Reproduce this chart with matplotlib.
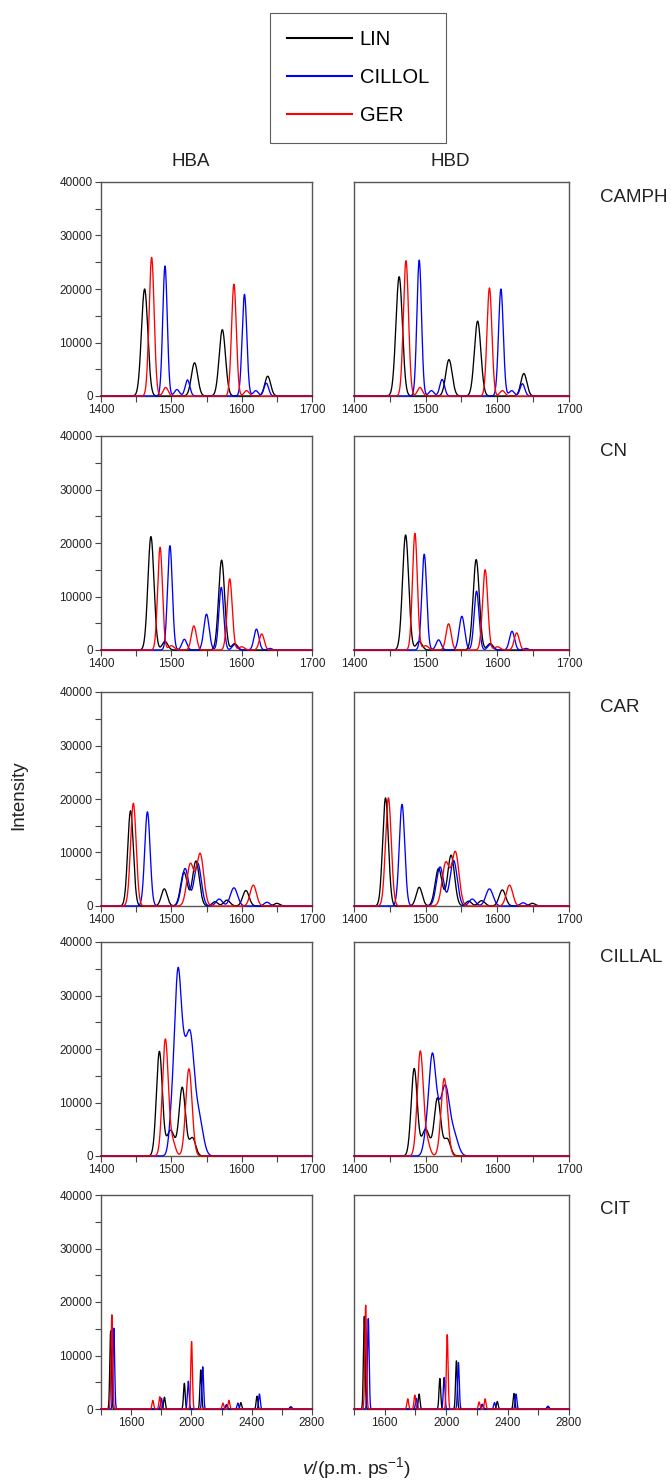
import numpy as np
import matplotlib.pyplot as plt
from matplotlib.ticker import MultipleLocator

plt.rcParams['font.family'] = ['Liberation Sans', 'DejaVu Sans']
plt.rcParams['mathtext.fontset'] = 'custom'
plt.rcParams['mathtext.rm'] = 'Liberation Sans'
plt.rcParams['mathtext.it'] = 'Liberation Sans:italic'

# series and rows
SERIES = ['LIN', 'CILLOL', 'GER']
COLORS = {'LIN': 'black', 'CILLOL': 'blue', 'GER': 'red'}
SOLVENTS = ['CAMPH', 'CN', 'CAR', 'CILLAL', 'CIT']
COLUMNS = ['HBA', 'HBD']

# peaks: (centre, intensity, half-width)
CAMPH_HBA = {
    'LIN': [(1462, 20000, 4.5), (1533, 6200, 4.5), (1572.5, 12400, 4.5), (1637, 3700, 4.2)],
    'CILLOL': [(1491, 24300, 3.2), (1508, 1200, 3.5), (1523, 3000, 3.3), (1604, 19000, 3.3),
               (1620, 1000, 3.5), (1635, 2400, 3.3)],
    'GER': [(1472, 25900, 3.6), (1492, 1600, 3.5), (1589, 20900, 3.4), (1607, 1000, 3.5)],
}
CAMPH_HBD = {
    'LIN': [(1463, 22300, 4.5), (1532.5, 6800, 4.5), (1572.5, 14000, 4.5), (1637, 4200, 4.2)],
    'CILLOL': [(1491, 25400, 3.2), (1508, 1000, 3.5), (1523, 3100, 3.3), (1605, 20000, 3.3),
               (1620, 1000, 3.5), (1635, 2300, 3.3)],
    'GER': [(1472.5, 25300, 3.6), (1492, 1600, 3.5), (1589, 20200, 3.4), (1607, 1000, 3.5)],
}
CN_HBA = {
    'LIN': [(1471, 21200, 4.3), (1491, 1600, 4), (1571.5, 16800, 4.3), (1590, 1200, 4)],
    'CILLOL': [(1498, 19500, 3.4), (1518.5, 2000, 3.5), (1550, 6700, 3.8), (1571, 11700, 3.4),
               (1590, 1000, 3.5), (1621, 3900, 3.5), (1640, 300, 3)],
    'GER': [(1484, 19200, 3.4), (1500, 800, 4), (1532, 4500, 3.6), (1583, 13300, 3.6),
            (1600, 600, 4), (1628.5, 3000, 3.5)],
}
CN_HBD = {
    'LIN': [(1472, 21500, 4.3), (1491, 1600, 4), (1570.5, 16900, 4.3), (1590, 1200, 4)],
    'CILLOL': [(1498, 17900, 3.4), (1518, 1900, 3.5), (1550.5, 6300, 3.8), (1571, 11000, 3.4),
               (1590, 1000, 3.5), (1620.5, 3500, 3.5), (1640, 300, 3)],
    'GER': [(1485, 21800, 3.4), (1500, 800, 4), (1532, 4900, 3.6), (1583, 15000, 3.6),
            (1600, 600, 4), (1627, 3200, 3.5)],
}
CAR_HBA = {
    'LIN': [(1442, 17800, 4.0), (1490, 3200, 4.2), (1518, 6300, 4.8), (1535, 8400, 4.8),
            (1562, 800, 4), (1579, 1100, 4.5), (1606, 2900, 4.5), (1650, 500, 4)],
    'CILLOL': [(1466, 17600, 3.8), (1519.5, 7000, 5), (1537.5, 8000, 5), (1568, 1300, 4.5),
               (1589, 3400, 5), (1636, 700, 4)],
    'GER': [(1446, 19200, 4.0), (1527, 7800, 5), (1541, 9700, 5), (1616.5, 3900, 4.5)],
}
CAR_HBD = {
    'LIN': [(1444, 20200, 4.0), (1491, 3500, 4.2), (1518, 7000, 4.8), (1535.5, 9500, 4.8),
            (1560, 900, 4), (1578, 1000, 4.5), (1607, 3000, 4.5), (1649, 500, 4)],
    'CILLOL': [(1467, 19000, 3.8), (1520, 7300, 5), (1539, 8500, 5), (1565, 1300, 4.5),
               (1589, 3200, 5), (1636, 600, 4)],
    'GER': [(1448, 20200, 4.0), (1528, 8000, 5), (1541.5, 10000, 5), (1617, 3900, 4.5)],
}
CILLAL_HBA = {
    'LIN': [(1483, 19500, 4.2), (1499, 4800, 5.5), (1515.5, 12800, 4.5), (1530, 3400, 4.5)],
    'CILLOL': [(1501, 7000, 4), (1509, 30000, 4.5), (1517, 14000, 5), (1527, 20500, 5.5),
               (1539, 7000, 6)],
    'GER': [(1491.5, 21800, 4.2), (1502, 2500, 4), (1525, 16300, 4.5)],
}
CILLAL_HBD = {
    'LIN': [(1484, 16300, 4.2), (1500, 5000, 5.5), (1516.5, 10800, 4.5), (1530, 3200, 4.5)],
    'CILLOL': [(1501, 3500, 4), (1509, 17000, 4.5), (1517, 6000, 5), (1527.5, 12000, 5.5),
               (1539, 4000, 6)],
    'GER': [(1492.5, 19500, 4.2), (1502, 2500, 4), (1526, 14500, 4.5)],
}
CIT_HBA = {
    'LIN': [(1464, 14600, 5.5), (1821, 2200, 5.5), (1953, 4800, 5.5), (2062, 7300, 5.5),
            (2233, 800, 5.5), (2328, 1200, 5.5), (2435, 2400, 5.5), (2657, 400, 5.5)],
    'CILLOL': [(1485, 15100, 5.5), (1801, 2000, 5.5), (1979, 5200, 5.5), (2075, 7900, 5.5),
               (2230, 700, 5.5), (2308, 1100, 5.5), (2451, 2800, 5.5), (2662, 400, 5.5)],
    'GER': [(1472, 17600, 5.5), (1744, 1600, 5.5), (1790, 2300, 5.5), (2001, 12600, 5.5),
            (2209, 1100, 5.5), (2249, 1600, 5.5)],
}
CIT_HBD = {
    'LIN': [(1467, 17300, 5.5), (1824, 2800, 5.5), (1959, 5700, 5.5), (2067, 9000, 5.5),
            (2235, 900, 5.5), (2333, 1400, 5.5), (2442, 2900, 5.5), (2661, 500, 5.5)],
    'CILLOL': [(1493, 16900, 5.5), (1806, 2000, 5.5), (1987, 5900, 5.5), (2080, 8700, 5.5),
               (2235, 800, 5.5), (2315, 1200, 5.5), (2455, 2800, 5.5), (2665, 500, 5.5)],
    'GER': [(1476, 19400, 5.5), (1750, 1900, 5.5), (1796, 2600, 5.5), (2007, 13900, 5.5),
            (2215, 1300, 5.5), (2254, 1900, 5.5)],
}

PANELS = [[CAMPH_HBA, CAMPH_HBD], [CN_HBA, CN_HBD], [CAR_HBA, CAR_HBD],
          [CILLAL_HBA, CILLAL_HBD], [CIT_HBA, CIT_HBD]]
XRANGES = [(1400, 1700), (1400, 1700), (1400, 1700), (1400, 1700), (1400, 2800)]


def spectrum(x, peaks):
    y = np.zeros_like(x)
    for c, h, w in peaks:
        y += h * np.exp(-0.5 * ((x - c) / w) ** 2)
    return y


W, H = 671, 1483
fig = plt.figure(figsize=(W / 100, H / 100), dpi=100)

# panel boxes in pixels
ROWS = [(182, 396), (436, 650), (692, 906), (942, 1156), (1195, 1409)]
COLS = [(101, 312), (354, 569)]

handles = []
for r, (top, bot) in enumerate(ROWS):
    x0, x1 = XRANGES[r]
    x = np.linspace(x0, x1, 6000)
    for c, (left, right) in enumerate(COLS):
        ax = fig.add_axes([left / W, 1 - bot / H, (right - left) / W, (bot - top) / H])
        for s in SERIES:
            ln, = ax.plot(x, spectrum(x, PANELS[r][c][s]), color=COLORS[s], lw=0.95,
                          zorder=3, clip_on=False)
            if r == 0 and c == 0:
                handles.append(ln)
        ax.set_xlim(x0, x1)
        ax.set_ylim(0, 40000)
        if x1 - x0 > 500:
            ax.xaxis.set_major_locator(MultipleLocator(400))
            ax.xaxis.set_minor_locator(MultipleLocator(200))
        else:
            ax.xaxis.set_major_locator(MultipleLocator(100))
            ax.xaxis.set_minor_locator(MultipleLocator(50))
        ax.yaxis.set_major_locator(MultipleLocator(10000))
        ax.yaxis.set_minor_locator(MultipleLocator(5000))
        ax.tick_params(which='both', direction='out', length=4, width=0.8, color='#444',
                       labelsize=8.5, labelcolor='#222', top=False, right=False, pad=2)
        if c == 1:
            ax.tick_params(axis='y', which='both', left=False, labelleft=False)
        for sp in ax.spines.values():
            sp.set_color('#555')
            sp.set_linewidth(1.0)
        if c == 1:
            fig.text(600 / W, 1 - (top + 15) / H, SOLVENTS[r], ha='left', va='center',
                     fontsize=13.5, color='#222')

fig.text(191 / W, 1 - 162 / H, 'HBA', ha='center', va='center', fontsize=13.5, color='#222')
fig.text(450 / W, 1 - 162 / H, 'HBD', ha='center', va='center', fontsize=13.5, color='#222')
fig.text(19 / W, 1 - 795 / H, 'Intensity', rotation=90, ha='center', va='center',
         fontsize=13.5, color='#222')
fig.text(357 / W, 1 - 1468 / H, r'$v$/(p.m. ps$^{-1}$)', ha='center', va='center',
         fontsize=14, color='#222')

leg = fig.legend(handles, SERIES, loc='upper left', bbox_to_anchor=(270 / W, 1 - 13 / H),
                 frameon=True, fancybox=False, edgecolor='#333', fontsize=14.5,
                 handlelength=3.2, handletextpad=0.4, labelspacing=0.95,
                 borderpad=0.85, borderaxespad=0)
leg.get_frame().set_linewidth(0.8)
for ln in leg.get_lines():
    ln.set_linewidth(1.5)

fig.savefig('out.png', dpi=100)
